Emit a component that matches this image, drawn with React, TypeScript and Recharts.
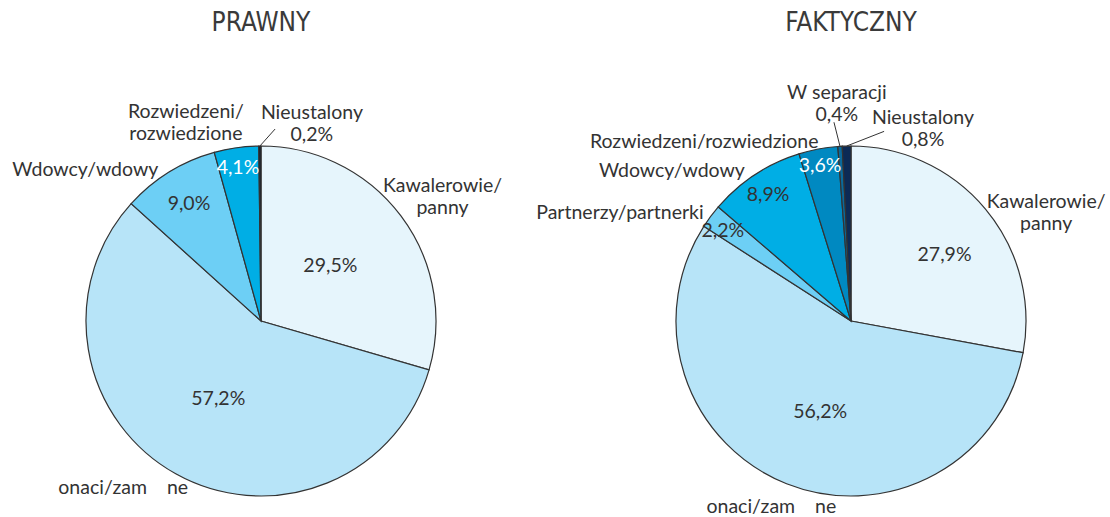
import React from 'react';
import { PieChart, Pie, Cell } from 'recharts';

// ---- data ----
const legalTitle = 'PRAWNY';
const legalLabels: string[][] = [
  ['Kawalerowie/', 'panny'],
  ['onaci/zam    ne'],
  ['Wdowcy/wdowy'],
  ['Rozwiedzeni/', 'rozwiedzione'],
  ['Nieustalony'],
];
const legalValues = [29.5, 57.2, 9.0, 4.1, 0.2];

const factualTitle = 'FAKTYCZNY';
const factualLabels: string[][] = [
  ['Kawalerowie/', 'panny'],
  ['onaci/zam    ne'],
  ['Partnerzy/partnerki'],
  ['Wdowcy/wdowy'],
  ['Rozwiedzeni/rozwiedzione'],
  ['W separacji'],
  ['Nieustalony'],
];
const factualValues = [27.9, 56.2, 2.2, 8.9, 3.6, 0.4, 0.8];

// ---- styles / layout ----
const legalColors = ['#e6f5fc', '#b7e4f8', '#6dcff5', '#00aee5', '#111a2a'];
const factualColors = ['#e6f5fc', '#b7e4f8', '#6dcff5', '#00aee5', '#0089c1', '#0a6a9c', '#0c2a55'];

// [angle deg, radius factor]; null => percent shown under the name
const legalPctPos: ([number, number] | null)[] = [[39, 0.51], [-119.2, 0.5], [121.4, 0.79], [98.5, 0.89], null];
const legalNamePos: [number, number][] = [[34.6, 1.26], [-129.8, 1.23], [139, 1.33], [110.6, 1.22], [75.6, 1.17]];
const legalLeader: ([number, number] | null)[] = [null, null, null, null, [85.8, 1.1]];
const legalWhite = [false, false, false, true, false];

const factualPctPos: ([number, number] | null)[] = [[35.9, 0.66], [-109, 0.54], [144.5, 0.9], [123, 0.87], [101.2, 0.91], null, null];
const factualNamePos: [number, number][] = [[29.4, 1.28], [-113.3, 1.15], [154.7, 1.46], [139.8, 1.34], [129.1, 1.33], [93.7, 1.25], [69.6, 1.18]];
const factualLeader: ([number, number] | null)[] = [null, null, null, null, null, [94.9, 1.14], [80.1, 1.1]];
const factualWhite = [false, false, false, false, true, false, false];

const FONT = 'Lato, "Open Sans", sans-serif';
const FS = 19.5;
const LINE = 22;
const TEXT = '#333333';
const RAD = Math.PI / 180;

const fmt = (v: number) => v.toFixed(1).replace('.', ',') + '%';
const polar = (cx: number, cy: number, r: number, a: number): [number, number] => [
  cx + r * Math.cos(a * RAD),
  cy - r * Math.sin(a * RAD),
];

function makeLabel(
  labels: string[][],
  values: number[],
  pctPos: ([number, number] | null)[],
  namePos: [number, number][],
  leaders: ([number, number] | null)[],
  white: boolean[]
) {
  return (props: any) => {
    const { cx, cy, outerRadius, index, midAngle } = props;
    const r = outerRadius;
    const lines = [...labels[index]];
    const pp = pctPos[index];
    if (!pp) lines.push(fmt(values[index]));
    const [nx, ny] = polar(cx, cy, r * namePos[index][1], namePos[index][0]);
    const top = ny - ((lines.length - 1) * LINE) / 2;
    const ld = leaders[index];
    let leader = null;
    if (ld) {
      const [x1, y1] = polar(cx, cy, r, midAngle);
      const [x2, y2] = polar(cx, cy, r * ld[1], ld[0]);
      leader = <line x1={x1} y1={y1} x2={x2} y2={y2} stroke="#333" strokeWidth={1} />;
    }
    let pct = null;
    if (pp) {
      const [px, py] = polar(cx, cy, r * pp[1], pp[0]);
      pct = (
        <text x={px} y={py} textAnchor="middle" dominantBaseline="central" fill={white[index] ? '#ffffff' : TEXT}
          fontFamily={FONT} fontSize={FS}>
          {fmt(values[index])}
        </text>
      );
    }
    return (
      <g key={'lbl' + index}>
        {leader}
        {pct}
        {lines.map((t, i) => (
          <text key={i} x={nx} y={top + i * LINE} textAnchor="middle" dominantBaseline="central" fill={TEXT}
            fontFamily={FONT} fontSize={FS} style={{ whiteSpace: 'pre' }}>
            {t}
          </text>
        ))}
      </g>
    );
  };
}

const legalData = legalValues.map((v, i) => ({ name: legalLabels[i].join(''), value: v }));
const factualData = factualValues.map((v, i) => ({ name: factualLabels[i].join(''), value: v }));

const titleStyle = (cx: number): React.CSSProperties => ({
  position: 'absolute',
  left: cx - 150,
  width: 300,
  top: 6,
  textAlign: 'center',
  fontFamily: '"Liberation Sans Narrow", "Arial Narrow", "DejaVu Sans Condensed", sans-serif',
  fontSize: 26,
  lineHeight: '32px',
  color: '#3a3a3a',
});

export default function App() {
  return (
    <div style={{ position: 'absolute', left: 0, top: 0, width: 1110, height: 517, background: '#fff' }}>
      <div style={titleStyle(261)}>{legalTitle}</div>
      <div style={titleStyle(851)}>{factualTitle}</div>
      <PieChart width={1110} height={517} margin={{ top: 0, right: 0, bottom: 0, left: 0 }}>
        <Pie
          data={legalData}
          dataKey="value"
          nameKey="name"
          cx={261}
          cy={321}
          outerRadius={175}
          startAngle={90}
          endAngle={-270}
          stroke="#333"
          strokeWidth={1.2}
          isAnimationActive={false}
          labelLine={false}
          label={makeLabel(legalLabels, legalValues, legalPctPos, legalNamePos, legalLeader, legalWhite)}
        >
          {legalData.map((_, i) => (
            <Cell key={i} fill={legalColors[i]} />
          ))}
        </Pie>
        <Pie
          data={factualData}
          dataKey="value"
          nameKey="name"
          cx={851}
          cy={321}
          outerRadius={175}
          startAngle={90}
          endAngle={-270}
          stroke="#333"
          strokeWidth={1.2}
          isAnimationActive={false}
          labelLine={false}
          label={makeLabel(factualLabels, factualValues, factualPctPos, factualNamePos, factualLeader, factualWhite)}
        >
          {factualData.map((_, i) => (
            <Cell key={i} fill={factualColors[i]} />
          ))}
        </Pie>
      </PieChart>
    </div>
  );
}
